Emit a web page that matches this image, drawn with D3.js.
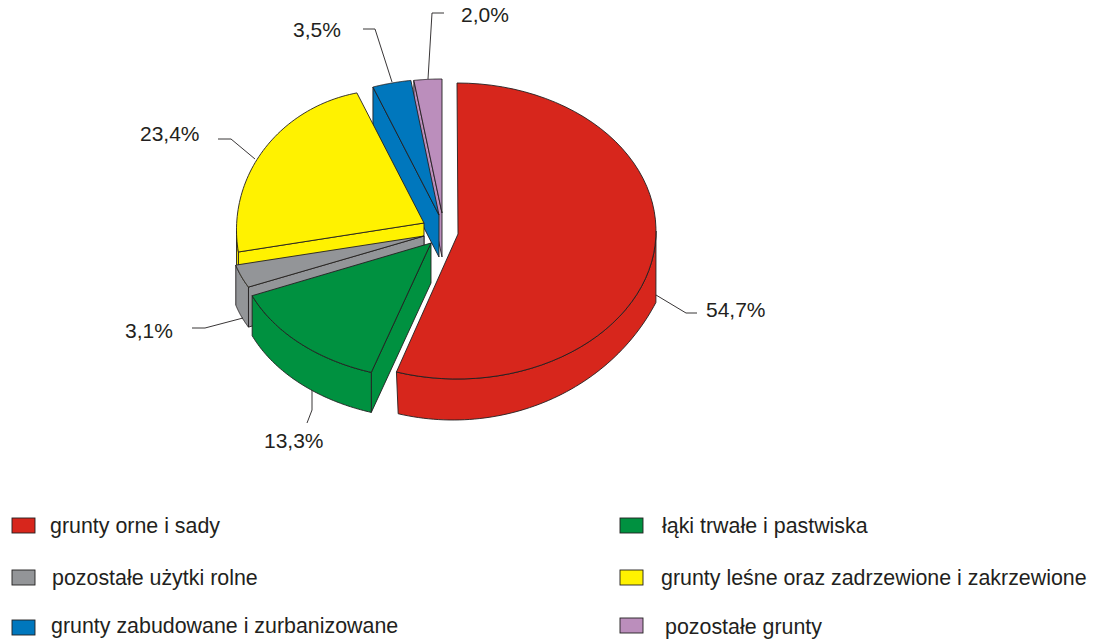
<!DOCTYPE html>
<html lang="pl">
<head>
<meta charset="utf-8">
<title>Struktura gruntów</title>
<script src="https://cdn.jsdelivr.net/npm/d3@7"></script>
<style>
html,body{margin:0;padding:0;background:#fff;}
svg{display:block;}
text{font-family:"Liberation Sans",Arial,sans-serif;fill:#231f20;}
</style>
</head>
<body>
<svg id="chart" width="1100" height="642"></svg>
<script>
// ---- data ----
const categories = ["grunty orne i sady","łąki trwałe i pastwiska","pozostałe użytki rolne",
  "grunty leśne oraz zadrzewione i zakrzewione","grunty zabudowane i zurbanizowane","pozostałe grunty"];
const shares = [54.7,13.3,3.1,23.4,3.5,2.0];
const shareLabels = ["54,7%","13,3%","3,1%","23,4%","3,5%","2,0%"];
const colours = ["#d7261c","#009140","#939598","#fff200","#0077bd","#bb8ebc"];

// ---- layout (drawing geometry of the exploded, tilted pie) ----
// apex of each wedge, its rim ellipse, thickness, and small perspective corrections to rim angles (deg)
const sliceLayout = [
  {ax:458,ay:234,cx:457,cy:231,a:199,b:148,depth:42,d0:0,d1:0.8,
   bottom:{cx:453,cy:213,a:225,b:207,t0:115.6,t1:194.1},wallFrom:90,radial:false},
  {ax:431,ay:243,cx:431,cy:243,a:194,b:136,depth:40,d0:1,d1:2.4,radial:true},
  {ax:424,ay:236,cx:424,cy:236,a:194,b:120,depth:40,d0:0,d1:0,radial:true},
  {ax:424,ay:223,cx:387.5,cy:230,a:151,b:140,depth:40,d0:5,d1:8.1,radial:true},
  {ax:439,ay:215,cx:439,cy:215,a:195,b:136,depth:42,d0:0,d1:-1.1,radial:true},
  {ax:442,ay:213,cx:442,cy:214,a:195,b:135,depth:44,d0:-1.1,d1:0,radial:true}
];
const drawOrder = [5,4,3,2,1,0];
const leaderLayout = [
  {line:[[656,295],[686,313],[697,313]],x:706,y:317},
  {line:[[312,390],[312,410],[307,423]],x:264,y:448},
  {line:[[243,318],[205,328],[192,328]],x:125,y:338},
  {line:[[255,159],[231,139],[218,139]],x:140,y:141},
  {line:[[392,82],[375,29],[363,29]],x:293,y:37},
  {line:[[428,79],[432,13],[444,13]],x:461,y:22}
];
const legendLayout = [
  {sx:12,sy:518,tx:50,ty:533},
  {sx:620,sy:518,tx:662,ty:533},
  {sx:12,sy:570,tx:52,ty:585},
  {sx:620,sy:570,tx:661,ty:585},
  {sx:12,sy:620,tx:51,ty:633},
  {sx:620,sy:618,tx:665,ty:634}
];
const stroke = "#231f20";

const svg = d3.select("#chart");
const deg = Math.PI/180;
const pie = d3.pie().sort(null).value(d=>d).startAngle(0).endAngle(2*Math.PI);
const arcs = pie(shares);
const line = d3.line();

function rimPoint(l,tDeg,dy=0){
  const t=tDeg*deg;
  return [l.cx+l.a*Math.sin(t), l.cy-l.b*Math.cos(t)+dy];
}
function ellPoint(e,tDeg){
  const t=tDeg*deg;
  return [e.cx+e.a*Math.sin(t), e.cy-e.b*Math.cos(t)];
}
function sweep(f,t0,t1){
  return d3.range(0,61).map(i=>f(t0+(t1-t0)*i/60));
}

const g = svg.append("g");
drawOrder.forEach(i=>{
  const l=sliceLayout[i], c=colours[i];
  const t0=arcs[i].startAngle/deg+l.d0, t1=arcs[i].endAngle/deg+l.d1;
  const style=s=>s.attr("fill",c).attr("stroke",stroke).attr("stroke-width",0.9).attr("stroke-linejoin","round");
  // radial wall at the wedge's start edge
  if(l.radial){
    const r=rimPoint(l,t0);
    const pts=[[l.ax,l.ay],r,[r[0],r[1]+l.depth],[l.ax,l.ay+l.depth]];
    g.append("path").attr("d",line(pts)+"Z").call(style);
  }
  // outer wall
  const from=Math.max(t0,l.wallFrom||90), to=Math.min(t1,270);
  if(to>from){
    const top=sweep(t=>rimPoint(l,t),from,to);
    const bot=l.bottom
      ? sweep(t=>ellPoint(l.bottom,t),l.bottom.t1,l.bottom.t0)
      : sweep(t=>rimPoint(l,t,l.depth),to,from);
    g.append("path").attr("d",line(top.concat(bot))+"Z").call(style);
  }
  // top face
  const face=[[l.ax,l.ay]].concat(sweep(t=>rimPoint(l,t),t0,t1));
  g.append("path").attr("d",line(face)+"Z").call(style);
});

// leaders and value labels
shareLabels.forEach((s,i)=>{
  const p=leaderLayout[i];
  svg.append("path").attr("d",line(p.line)).attr("fill","none").attr("stroke",stroke).attr("stroke-width",0.9);
  svg.append("text").attr("x",p.x).attr("y",p.y).attr("font-size",21).text(s);
});

// legend
categories.forEach((s,i)=>{
  const p=legendLayout[i];
  svg.append("rect").attr("x",p.sx).attr("y",p.sy).attr("width",23).attr("height",15)
    .attr("fill",colours[i]).attr("stroke",stroke).attr("stroke-width",0.9);
  svg.append("text").attr("x",p.tx).attr("y",p.ty).attr("font-size",21.4).text(s);
});
</script>
</body>
</html>
